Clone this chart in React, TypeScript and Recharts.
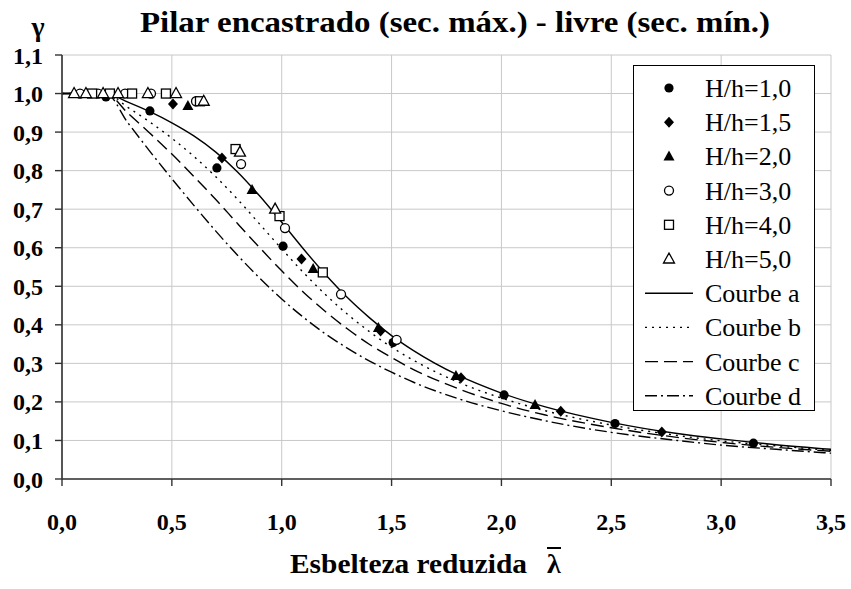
import { CartesianGrid, ComposedChart, Legend, Line, Scatter, XAxis, YAxis } from "recharts";

// reduced slenderness values where the curves were read
const lambdaCurve = [0, 0.2, 0.3, 0.4, 0.5, 0.6, 0.7, 0.8, 0.9, 1.0, 1.1, 1.2, 1.3, 1.4, 1.5, 1.6, 1.8, 2.0, 2.2, 2.5, 2.8, 3.0, 3.25, 3.5];
const curveA = [1, 1, 0.978, 0.953, 0.924, 0.89, 0.848, 0.796, 0.734, 0.666, 0.596, 0.53, 0.47, 0.418, 0.372, 0.333, 0.27, 0.223, 0.187, 0.147, 0.118, 0.104, 0.089, 0.077];
const curveB = [1, 1, 0.964, 0.926, 0.884, 0.837, 0.784, 0.725, 0.661, 0.597, 0.535, 0.478, 0.427, 0.382, 0.342, 0.308, 0.252, 0.21, 0.177, 0.14, 0.113, 0.099, 0.086, 0.074];
const curveC = [1, 1, 0.949, 0.897, 0.843, 0.785, 0.725, 0.662, 0.6, 0.54, 0.484, 0.434, 0.389, 0.349, 0.315, 0.284, 0.235, 0.196, 0.166, 0.133, 0.108, 0.095, 0.082, 0.072];
const curveD = [1, 1, 0.924, 0.85, 0.779, 0.71, 0.643, 0.58, 0.521, 0.467, 0.419, 0.376, 0.339, 0.306, 0.277, 0.251, 0.209, 0.177, 0.151, 0.121, 0.1, 0.088, 0.077, 0.067];

// test points [lambda, gamma]
const hh10 = [[0.2, 0.991], [0.4, 0.955], [0.705, 0.807], [1.006, 0.604], [1.507, 0.354], [2.012, 0.218], [2.517, 0.144], [3.147, 0.093]];
const hh15 = [[0.505, 0.973], [0.728, 0.833], [1.09, 0.571], [1.45, 0.384], [1.816, 0.263], [2.27, 0.176], [2.73, 0.122]];
const hh20 = [[0.573, 0.968], [0.865, 0.75], [1.143, 0.545], [1.44, 0.392], [1.793, 0.267], [2.153, 0.192]];
const hh30 = [[0.082, 1], [0.164, 1], [0.287, 1], [0.405, 1], [0.61, 0.98], [0.815, 0.817], [1.015, 0.651], [1.27, 0.479], [1.523, 0.361]];
const hh40 = [[0.137, 1], [0.218, 1], [0.319, 1], [0.473, 1], [0.628, 0.98], [0.79, 0.856], [0.99, 0.682], [1.187, 0.536]];
const hh50 = [[0.055, 1], [0.109, 1], [0.187, 1], [0.255, 1], [0.391, 1], [0.519, 1], [0.645, 0.98], [0.81, 0.848], [0.97, 0.7]];

const xTicks = [0, 0.5, 1.0, 1.5, 2.0, 2.5, 3.0, 3.5];
const yTicks = [0, 0.1, 0.2, 0.3, 0.4, 0.5, 0.6, 0.7, 0.8, 0.9, 1.0, 1.1];

const pointNames = ["H/h=1,0", "H/h=1,5", "H/h=2,0", "H/h=3,0", "H/h=4,0", "H/h=5,0"];
const curveNames = ["Courbe a", "Courbe b", "Courbe c", "Courbe d"];

const curves = [curveA, curveB, curveC, curveD].map((c) => lambdaCurve.map((x, i) => ({ x, y: c[i] })));
const points = [hh10, hh15, hh20, hh30, hh40, hh50].map((p) => p.map(([x, y]) => ({ x, y })));
const markerKinds = ["dot", "diamond", "tri", "ocircle", "square", "otri"];
const dashes = ["", "2 5", "13 6", "12 4 2 4"];

const fmt = (v: number) => v.toFixed(1).replace(".", ",");
const serif = "'Liberation Serif', 'Times New Roman', serif";

function Marker({ kind, cx, cy }: { kind: string; cx: number; cy: number }) {
  if (cx == null || cy == null) return null;
  switch (kind) {
    case "dot":
      return <circle cx={cx} cy={cy} r={4.6} fill="#000" />;
    case "diamond":
      return <polygon points={`${cx},${cy - 5.5} ${cx + 5},${cy} ${cx},${cy + 5.5} ${cx - 5},${cy}`} fill="#000" />;
    case "tri":
      return <polygon points={`${cx},${cy - 6} ${cx + 5.5},${cy + 4} ${cx - 5.5},${cy + 4}`} fill="#000" />;
    case "ocircle":
      return <circle cx={cx} cy={cy} r={4.5} fill="#fff" stroke="#000" strokeWidth={1.3} />;
    case "square":
      return <rect x={cx - 4.5} y={cy - 4.5} width={9} height={9} fill="#fff" stroke="#000" strokeWidth={1.3} />;
    default:
      return <polygon points={`${cx},${cy - 6} ${cx + 5.5},${cy + 4} ${cx - 5.5},${cy + 4}`} fill="#fff" stroke="#000" strokeWidth={1.3} />;
  }
}

function LegendBox() {
  const rowH = 34.2;
  return (
    <svg width={182} height={346} style={{ display: "block" }}>
      <rect x={0.5} y={0.5} width={181} height={345} fill="#fff" stroke="#000" strokeWidth={1} />
      {pointNames.map((n, i) => (
        <g key={n}>
          <Marker kind={markerKinds[i]} cx={36} cy={23 + i * rowH} />
          <text x={72} y={23 + i * rowH + 9} fontSize={26} fontFamily={serif}>{n}</text>
        </g>
      ))}
      {curveNames.map((n, j) => {
        const cy = 23 + (j + 6) * rowH;
        return (
          <g key={n}>
            <line x1={12} x2={60} y1={cy} y2={cy} stroke="#000" strokeWidth={1.4} strokeDasharray={dashes[j]} />
            <text x={72} y={cy + 9} fontSize={26} fontFamily={serif}>{n}</text>
          </g>
        );
      })}
    </svg>
  );
}

export default function App() {
  return (
    <div style={{ position: "relative", width: 851, height: 589, background: "#fff" }}>
      <style>{"body{margin:0}"}</style>
      <ComposedChart width={851} height={589} margin={{ top: 55, right: 20, bottom: 60, left: 2 }}>
        <CartesianGrid stroke="#c8c8c8" strokeWidth={1} />
        <XAxis
          dataKey="x"
          type="number"
          domain={[0, 3.5]}
          ticks={xTicks}
          tickFormatter={fmt}
          height={50}
          axisLine={{ stroke: "#333", strokeWidth: 1.6 }}
          tickLine={{ stroke: "#333", strokeWidth: 1.4 }}
          tickSize={7}
          tickMargin={27}
          tick={{ fill: "#000", fontSize: 24, fontWeight: "bold", fontFamily: serif }}
          allowDataOverflow
        />
        <YAxis
          dataKey="y"
          type="number"
          domain={[0, 1.1]}
          ticks={yTicks}
          tickFormatter={fmt}
          width={60}
          axisLine={{ stroke: "#333", strokeWidth: 1.6 }}
          tickLine={{ stroke: "#333", strokeWidth: 1.4 }}
          tickSize={7}
          tickMargin={12}
          tick={{ fill: "#000", fontSize: 24, fontWeight: "bold", fontFamily: serif }}
          allowDataOverflow
        />
        {curves.map((d, i) => (
          <Line
            key={curveNames[i]}
            data={d}
            dataKey="y"
            name={curveNames[i]}
            type="monotone"
            stroke="#000"
            strokeWidth={1.4}
            strokeDasharray={dashes[i] || undefined}
            dot={false}
            activeDot={false}
            isAnimationActive={false}
          />
        ))}
        {points.map((d, i) => (
          <Scatter
            key={pointNames[i]}
            data={d}
            name={pointNames[i]}
            isAnimationActive={false}
            shape={(p: any) => <Marker kind={markerKinds[i]} cx={p.cx} cy={p.cy} />}
          />
        ))}
        <Legend
          layout="vertical"
          align="center"
          verticalAlign="middle"
          wrapperStyle={{ left: 633, top: 65, width: 182, height: 346 }}
          content={() => <LegendBox />}
        />
      </ComposedChart>
      <svg width={851} height={589} style={{ position: "absolute", left: 0, top: 0, pointerEvents: "none" }}>
        <text x={455} y={32} textAnchor="middle" fontSize={30} fontWeight="bold" fontFamily={serif} textLength={630} lengthAdjust="spacingAndGlyphs">
          Pilar encastrado (sec. máx.) - livre (sec. mín.)
        </text>
        <text x={38} y={36} textAnchor="middle" fontSize={28} fontWeight="bold" fontFamily={serif}>γ</text>
        <text x={290} y={573} fontSize={28} fontWeight="bold" fontFamily={serif} textLength={237} lengthAdjust="spacingAndGlyphs">Esbelteza reduzida</text>
        <text x={547} y={573} fontSize={28} fontWeight="bold" fontFamily={serif}>λ</text>
        <line x1={547} x2={561} y1={548} y2={548} stroke="#000" strokeWidth={2} />
      </svg>
    </div>
  );
}
